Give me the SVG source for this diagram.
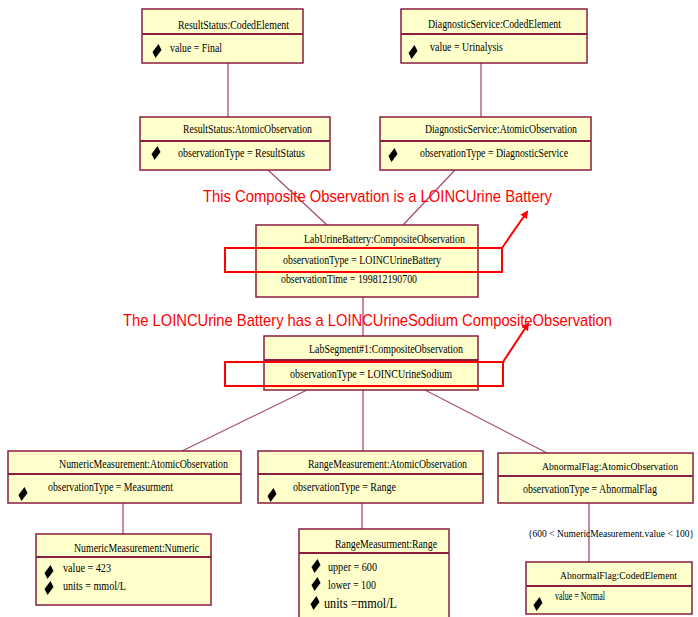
<svg xmlns="http://www.w3.org/2000/svg" width="698" height="617" viewBox="0 0 698 617">
<style>
.box{fill:#FFFFCC;stroke:#8B1E3F;stroke-width:1.5}
.div{stroke:#8B1E3F;stroke-width:2}
.t{font-family:"Liberation Serif","Times New Roman",serif;font-size:13px;fill:#000}
.s{font-size:11px}
.conn{stroke:#A5506E;stroke-width:1.3;fill:none}
.red{font-family:"Liberation Sans",Arial,sans-serif;font-size:17px;fill:#FF0000}
.rr{fill:none;stroke:#FF0000;stroke-width:2}
.ra{stroke:#FF0000;stroke-width:2;fill:none}
</style>
<defs>
<path id="dia" d="M1.5,-7 L4.5,-1 L-1.5,7 L-4.5,1 Z" fill="#000"/>
<marker id="ah" markerWidth="8" markerHeight="8" refX="6" refY="4" orient="auto" markerUnits="userSpaceOnUse">
<path d="M0,0 L8,4 L0,8 Z" fill="#FF0000"/>
</marker>
</defs>
<rect width="698" height="617" fill="#fff"/>
<g id="connectors">
<line class="conn" x1="228" y1="63" x2="228" y2="117"/>
<line class="conn" x1="481" y1="63" x2="481" y2="117"/>
<line class="conn" x1="268" y1="170" x2="327" y2="225"/>
<line class="conn" x1="455" y1="170" x2="403" y2="225"/>
<line class="conn" x1="363" y1="297" x2="363" y2="336"/>
<line class="conn" x1="307" y1="390" x2="182" y2="451"/>
<line class="conn" x1="363" y1="390" x2="363" y2="451"/>
<line class="conn" x1="425" y1="390" x2="547" y2="453"/>
<line class="conn" x1="123" y1="503" x2="123" y2="534"/>
<line class="conn" x1="362" y1="503" x2="362" y2="529"/>
<line class="conn" x1="589" y1="503" x2="589" y2="562"/>
<text class="t" style="font-size:9.5px" x="528" y="537" textLength="166" lengthAdjust="spacingAndGlyphs">{600 &lt; NumericMeasurement.value &lt; 100}</text>
</g>
<g id="ResultStatusCoded">
<rect class="box" x="142" y="9" width="161" height="54"/>
<line class="div" x1="142" y1="34" x2="303" y2="34"/>
<text class="t" x="178" y="29" textLength="111" lengthAdjust="spacingAndGlyphs">ResultStatus:CodedElement</text>
<use href="#dia" x="157" y="51"/>
<text class="t" x="170" y="52" textLength="52" lengthAdjust="spacingAndGlyphs">value = Final</text>
</g>
<g id="DiagnosticServiceCoded">
<rect class="box" x="401" y="9" width="186" height="54"/>
<line class="div" x1="401" y1="34" x2="587" y2="34"/>
<text class="t" x="428" y="28" textLength="133" lengthAdjust="spacingAndGlyphs">DiagnosticService:CodedElement</text>
<use href="#dia" x="413" y="52"/>
<text class="t" x="430" y="51" textLength="73" lengthAdjust="spacingAndGlyphs">value = Urinalysis</text>
</g>
<g id="ResultStatusAtomic">
<rect class="box" x="140" y="117" width="190" height="53"/>
<line class="div" x1="140" y1="141" x2="330" y2="141"/>
<text class="t" x="183" y="133" textLength="129" lengthAdjust="spacingAndGlyphs">ResultStatus:AtomicObservation</text>
<use href="#dia" x="156" y="153"/>
<text class="t" x="178" y="157" textLength="127" lengthAdjust="spacingAndGlyphs">observationType = ResultStatus</text>
</g>
<g id="DiagnosticServiceAtomic">
<rect class="box" x="380" y="117" width="211" height="53"/>
<line class="div" x1="380" y1="141" x2="591" y2="141"/>
<text class="t" x="425" y="133" textLength="152" lengthAdjust="spacingAndGlyphs">DiagnosticService:AtomicObservation</text>
<use href="#dia" x="393" y="155"/>
<text class="t" x="420" y="157" textLength="148" lengthAdjust="spacingAndGlyphs">observationType = DiagnosticService</text>
</g>
<g id="LabUrineBattery">
<rect class="box" x="256" y="225" width="222" height="72"/>
<text class="t" x="304" y="243" textLength="161" lengthAdjust="spacingAndGlyphs">LabUrineBattery:CompositeObservation</text>
<text class="t" x="283" y="264" textLength="158" lengthAdjust="spacingAndGlyphs">observationType = LOINCUrineBattery</text>
<text class="t" x="281" y="283" textLength="136" lengthAdjust="spacingAndGlyphs">observationTime = 199812190700</text>
</g>
<g id="LabSegment">
<rect class="box" x="264" y="336" width="214" height="54"/>
<line class="div" x1="264" y1="360" x2="478" y2="360"/>
<text class="t" x="309" y="353" textLength="154" lengthAdjust="spacingAndGlyphs">LabSegment#1:CompositeObservation</text>
<text class="t" x="290" y="378" textLength="162" lengthAdjust="spacingAndGlyphs">observationType = LOINCUrineSodium</text>
</g>
<g id="NumericAtomic">
<rect class="box" x="8" y="451" width="233" height="52"/>
<line class="div" x1="8" y1="474" x2="241" y2="474"/>
<text class="t" x="59" y="468" textLength="169" lengthAdjust="spacingAndGlyphs">NumericMeasurement:AtomicObservation</text>
<use href="#dia" x="23" y="494"/>
<text class="t" x="48" y="491" textLength="125" lengthAdjust="spacingAndGlyphs">observationType = Measurment</text>
</g>
<g id="NumericNumeric">
<rect class="box" x="36" y="534" width="175" height="71"/>
<line class="div" x1="36" y1="557" x2="211" y2="557"/>
<text class="t" x="74" y="552" textLength="125" lengthAdjust="spacingAndGlyphs">NumericMeasurement:Numeric</text>
<use href="#dia" x="49" y="572"/>
<text class="t" x="63" y="572" textLength="48" lengthAdjust="spacingAndGlyphs">value = 423</text>
<use href="#dia" x="49" y="588"/>
<text class="t" x="63" y="590" textLength="63" lengthAdjust="spacingAndGlyphs">units = mmol/L</text>
</g>
<g id="RangeAtomic">
<rect class="box" x="258" y="451" width="225" height="52"/>
<line class="div" x1="258" y1="474" x2="483" y2="474"/>
<text class="t" x="308" y="468" textLength="159" lengthAdjust="spacingAndGlyphs">RangeMeasurement:AtomicObservation</text>
<use href="#dia" x="272" y="495"/>
<text class="t" x="293" y="491" textLength="103" lengthAdjust="spacingAndGlyphs">observationType = Range</text>
</g>
<g id="RangeRange">
<rect class="box" x="299" y="529" width="150" height="92"/>
<line class="div" x1="299" y1="553" x2="449" y2="553"/>
<text class="t" x="335" y="548" textLength="102" lengthAdjust="spacingAndGlyphs">RangeMeasurment:Range</text>
<use href="#dia" x="316" y="566"/>
<text class="t" x="328" y="571" textLength="49" lengthAdjust="spacingAndGlyphs">upper = 600</text>
<use href="#dia" x="316" y="584"/>
<text class="t" x="328" y="589" textLength="48" lengthAdjust="spacingAndGlyphs">lower = 100</text>
<use href="#dia" x="315" y="603"/>
<text class="t" x="324" y="608" style="font-size:15px" textLength="73" lengthAdjust="spacingAndGlyphs">units =mmol/L</text>
</g>
<g id="AbnormalAtomic">
<rect class="box" x="498" y="453" width="195" height="50"/>
<line class="div" x1="498" y1="476" x2="693" y2="476"/>
<text class="t s" x="542" y="470" textLength="136" lengthAdjust="spacingAndGlyphs">AbnormalFlag:AtomicObservation</text>
<text class="t" x="523" y="493" textLength="134" lengthAdjust="spacingAndGlyphs">observationType = AbnormalFlag</text>
</g>
<g id="AbnormalCoded">
<rect class="box" x="526" y="562" width="166" height="52"/>
<line class="div" x1="526" y1="586" x2="692" y2="586"/>
<text class="t s" x="560" y="579" textLength="117" lengthAdjust="spacingAndGlyphs">AbnormalFlag:CodedElement</text>
<use href="#dia" x="538" y="604"/>
<text class="t" x="555" y="600" textLength="50" lengthAdjust="spacingAndGlyphs">value = Normal</text>
</g>
<g id="annotations">
<text class="red" x="203" y="202" textLength="349" lengthAdjust="spacingAndGlyphs">This Composite Observation  is a LOINCUrine Battery</text>
<rect class="rr" x="225" y="248" width="277" height="24"/>
<line class="ra" x1="502" y1="248" x2="527" y2="212" marker-end="url(#ah)"/>
<text class="red" x="123" y="326" textLength="489" lengthAdjust="spacingAndGlyphs">The LOINCUrine Battery has a LOINCUrineSodium CompositeObservation</text>
<rect class="rr" x="225" y="362" width="278" height="24"/>
<line class="ra" x1="503" y1="362" x2="528" y2="324" marker-end="url(#ah)"/>
</g>
</svg>
